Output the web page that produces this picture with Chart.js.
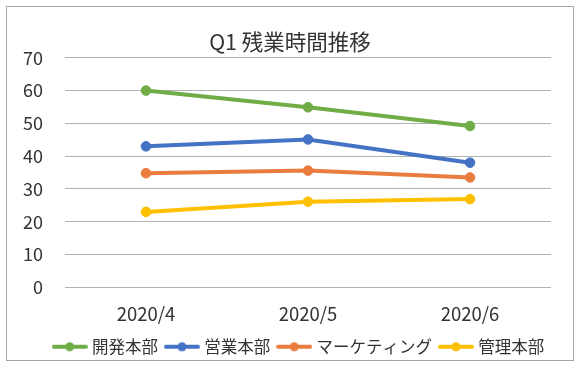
<!DOCTYPE html>
<html>
<head>
<meta charset="utf-8">
<script src="https://cdn.jsdelivr.net/npm/chart.js@4"></script>
<style>
  html, body { margin: 0; padding: 0; background: #fff; }
  #wrap { position: absolute; left: 0; top: 0; width: 580px; height: 387px; }
</style>
</head>
<body>
<div id="wrap"><canvas id="canvas" width="580" height="387"></canvas></div>
<script>
var months = ["2020/4", "2020/5", "2020/6"];
var kaihatsu = [60, 54.9, 49.2];
var eigyo = [43, 45.1, 38];
var marketing = [34.8, 35.6, 33.5];
var kanri = [23, 26.1, 26.9];
var yTicks = [0, 10, 20, 30, 40, 50, 60, 70];

var FONT = "'Noto Sans CJK JP', 'Noto Sans', sans-serif";
var TEXT = "#333333";

// legend marker: short line with a dot in the middle
function marker(color) {
    var c = document.createElement('canvas');
    c.width = 36; c.height = 12;
    var g = c.getContext('2d');
    g.strokeStyle = color; g.lineWidth = 4; g.lineCap = 'round';
    g.beginPath(); g.moveTo(2, 6); g.lineTo(34, 6); g.stroke();
    g.fillStyle = color;
    g.beginPath(); g.arc(18, 6, 4.5, 0, Math.PI * 2); g.fill();
    return c;
}

function series(label, data, color) {
    return {
        label: label,
        data: data,
        borderColor: color,
        backgroundColor: color,
        borderWidth: 4,
        pointRadius: 4.8,
        pointBackgroundColor: color,
        pointBorderColor: color,
        pointBorderWidth: 1,
        pointStyle: 'circle',
        legendMark: marker(color),
        fill: false,
        tension: 0
    };
}

var frame = {
    id: 'frame',
    afterLayout: function(chart) {
        // Excel puts the legend a bit right of centre
        var lg = chart.legend;
        lg.left += 10; lg.right += 10;
        lg.top -= 5; lg.bottom -= 5;
    },
    beforeDraw: function(chart) {
        var ctx = chart.ctx;
        ctx.save();
        ctx.fillStyle = '#fff';
        ctx.fillRect(0, 0, chart.width, chart.height);
        ctx.strokeStyle = '#a6a6a6';
        ctx.lineWidth = 1;
        ctx.strokeRect(6.5, 6.5, 567, 354);
        ctx.restore();
    }
};

var ds = [
    series("開発本部", kaihatsu, "#70AD47"),
    series("営業本部", eigyo, "#4472C4"),
    series("マーケティング", marketing, "#E97C3E"),
    series("管理本部", kanri, "#FFC000")
];

var ctx = document.getElementById("canvas").getContext("2d");
var chart = new Chart(ctx, {
    type: 'line',
    data: { labels: months, datasets: ds },
    options: {
        responsive: false,
        animation: false,
        layout: { padding: { left: 0, right: 0, top: 29, bottom: 17 } },
        plugins: {
            title: {
                display: true,
                text: "Q1 残業時間推移",
                color: TEXT,
                font: { family: FONT, size: 21.5, weight: 'normal' },
                padding: { top: 0, bottom: 3 }
            },
            legend: {
                position: 'bottom',
                labels: {
                    color: TEXT,
                    font: { family: FONT, size: 16.5 },
                    usePointStyle: true,
                    pointStyleWidth: 28,
                    padding: 10,
                    generateLabels: function(c) {
                        return c.data.datasets.map(function(d, i) {
                            return {
                                text: d.label,
                                fillStyle: d.borderColor,
                                strokeStyle: d.borderColor,
                                lineWidth: 0,
                                pointStyle: d.legendMark,
                                fontColor: TEXT,
                                datasetIndex: i
                            };
                        });
                    }
                }
            },
            tooltip: { enabled: false }
        },
        scales: {
            x: {
                offset: true,
                grid: { display: false },
                border: { display: false },
                ticks: { color: TEXT, font: { family: FONT, size: 18.5 }, padding: 8 }
            },
            y: {
                min: 0,
                max: 70,
                afterBuildTicks: function(axis) {
                    axis.ticks = yTicks.map(function(v) { return { value: v }; });
                },
                afterFit: function(axis) { axis.width = 65; },
                grid: { color: '#b3b3b3', lineWidth: 1, drawTicks: false },
                border: { display: false },
                ticks: { color: TEXT, font: { family: FONT, size: 18 }, padding: 22 }
            },
            spacer: {
                type: 'linear',
                position: 'right',
                grid: { display: false },
                border: { display: false },
                ticks: { display: false },
                afterFit: function(axis) { axis.width = 29; }
            }
        }
    },
    plugins: [frame]
});
</script>
</body>
</html>
